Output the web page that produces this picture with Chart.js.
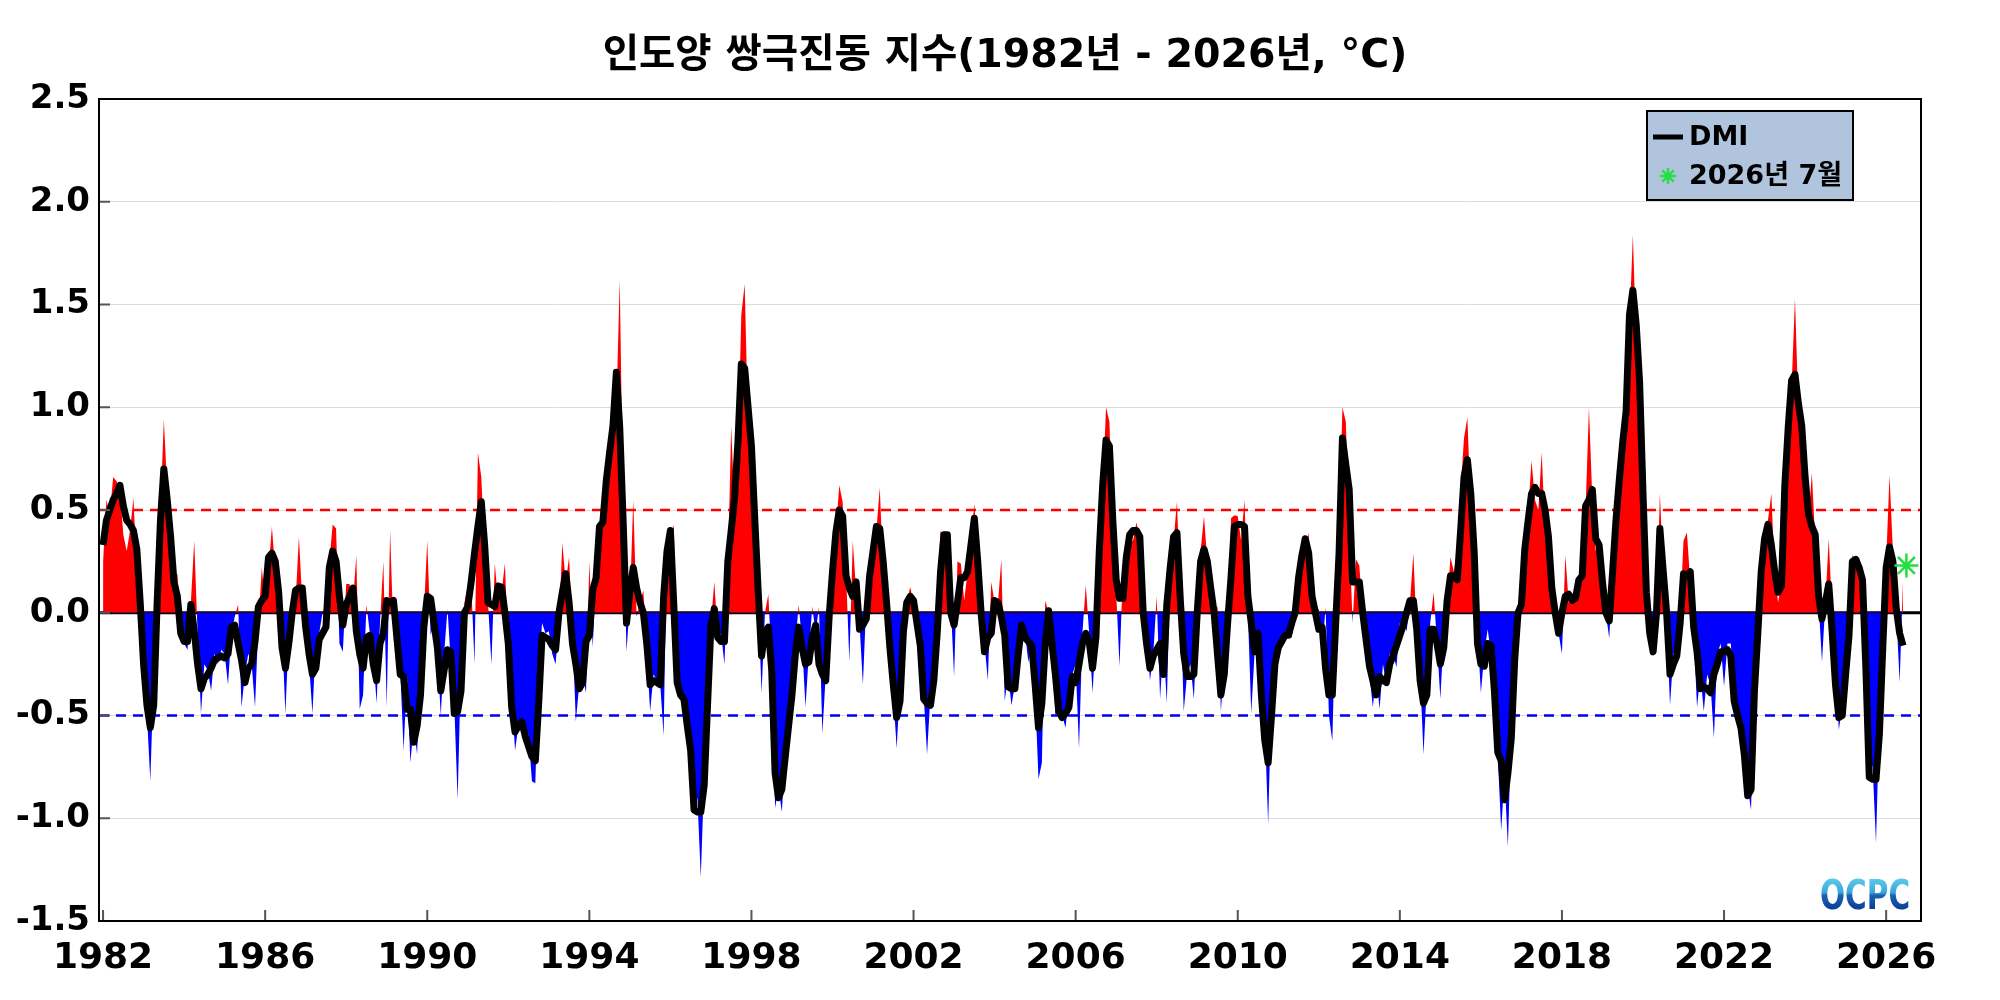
<!DOCTYPE html>
<html>
<head>
<meta charset="utf-8">
<title>DMI</title>
<script src="https://cdn.jsdelivr.net/npm/chart.js@4.4.1/dist/chart.umd.min.js"></script>
<style>
  html, body { margin: 0; padding: 0; background: #fff; }
  #wrap { width: 2000px; height: 1000px; }
</style>
</head>
<body>
<div id="wrap"><canvas id="dmiChart" width="2000" height="1000"></canvas></div>
<script>
var startYear = 1982;
var titleText = '인도양 쌍극진동 지수(1982년 - 2026년, °C)';
var xTickYears = [1982, 1986, 1990, 1994, 1998, 2002, 2006, 2010, 2014, 2018, 2022, 2026];
var yTicks = [-1.5, -1.0, -0.5, 0.0, 0.5, 1.0, 1.5, 2.0, 2.5];
var legendLabels = ['DMI', '2026년 7월'];
var forecastYear = 2026, forecastMonth = 7, forecastValue = 0.23;
var thresholds = [0.5, -0.5];

// monthly DMI, one row per year (Jan..Dec)
var dmiMonthly = [
  0.25, 0.55, 0.48, 0.66, 0.64, 0.60, 0.38, 0.30, 0.40, 0.56, 0.20, -0.10,
  -0.30, -0.50, -0.82, -0.30, 0.10, 0.50, 0.94, 0.60, 0.25, 0.15, 0.19, -0.05,
  -0.15, -0.18, 0.05, 0.35, -0.10, -0.49, -0.25, -0.28, -0.38, -0.20, -0.25, -0.18,
  -0.20, -0.35, -0.10, -0.02, 0.04, -0.46, -0.30, -0.20, -0.25, -0.46, -0.05, 0.22,
  0.05, 0.20, 0.42, 0.20, 0.05, -0.10, -0.49, -0.10, 0.05, 0.05, 0.37, 0.05,
  -0.05, -0.25, -0.49, -0.15, -0.10, 0.00, 0.04, 0.25, 0.43, 0.41, -0.15, -0.19,
  0.14, 0.14, 0.05, 0.28, -0.47, -0.40, 0.04, -0.10, -0.20, -0.44, -0.05, 0.25,
  -0.46, 0.40, -0.11, -0.10, -0.28, -0.67, -0.30, -0.73, -0.55, -0.69, -0.20, 0.00,
  0.35, -0.11, -0.05, -0.20, -0.50, -0.20, 0.02, -0.25, -0.45, -0.91, -0.25, 0.05,
  0.12, 0.15, -0.25, 0.78, 0.66, 0.30, 0.05, -0.25, 0.24, 0.05, 0.10, 0.24,
  -0.20, -0.40, -0.67, -0.55, -0.53, -0.55, -0.60, -0.82, -0.83, -0.30, -0.05, -0.10,
  -0.09, -0.20, -0.25, -0.05, 0.34, 0.15, 0.27, -0.10, -0.53, -0.35, -0.30, -0.39,
  0.25, -0.17, 0.20, 0.40, 0.56, 0.50, 0.75, 0.95, 1.00, 1.62, 0.50, -0.19,
  0.05, 0.55, -0.02, 0.05, 0.11, -0.20, -0.48, -0.30, -0.33, -0.35, -0.60, 0.41,
  0.35, 0.43, -0.30, -0.42, -0.45, -0.50, -0.70, -0.98, -0.90, -1.29, -0.80, -0.40,
  -0.05, 0.15, -0.10, -0.10, -0.25, 0.20, 0.91, 0.50, 0.80, 1.45, 1.60, 0.90,
  0.70, 0.40, 0.05, -0.39, 0.00, 0.09, -0.25, -0.95, -0.85, -0.97, -0.70, -0.50,
  -0.35, -0.15, 0.04, -0.15, -0.46, -0.20, 0.03, -0.10, 0.03, -0.59, -0.30, -0.05,
  0.20, 0.40, 0.62, 0.54, 0.20, -0.24, 0.35, 0.10, -0.05, -0.35, 0.05, 0.15,
  0.30, 0.40, 0.61, 0.20, 0.00, -0.20, -0.40, -0.66, -0.35, -0.10, 0.05, 0.125,
  0.05, -0.05, -0.20, -0.40, -0.69, -0.40, -0.30, -0.05, 0.40, 0.35, 0.38, 0.05,
  -0.31, 0.25, 0.24, 0.06, 0.20, 0.35, 0.53, 0.30, -0.05, -0.15, -0.33, 0.15,
  0.05, 0.05, 0.26, -0.43, -0.30, -0.45, -0.35, -0.15, -0.05, -0.10, -0.24, -0.15,
  -0.40, -0.81, -0.73, 0.06, 0.00, -0.10, -0.50, -0.45, -0.50, -0.56, -0.40, -0.30,
  -0.25, -0.66, -0.10, 0.135, -0.10, -0.39, -0.10, 0.40, 0.60, 1.00, 0.93, 0.40,
  0.10, -0.26, 0.21, 0.30, 0.35, 0.35, 0.44, 0.35, 0.00, -0.10, -0.33, -0.20,
  0.08, -0.42, -0.15, -0.44, 0.20, 0.35, 0.54, 0.10, -0.48, -0.30, -0.25, -0.42,
  -0.05, 0.30, 0.47, 0.25, 0.10, 0.00, 0.03, -0.48, -0.25, -0.30, 0.46, 0.475,
  0.47, 0.35, 0.55, 0.00, -0.49, -0.19, -0.10, -0.45, -0.55, -1.03, -0.40, -0.20,
  -0.15, -0.15, -0.10, -0.12, -0.12, 0.00, 0.15, 0.37, 0.30, 0.39, 0.05, 0.00,
  0.02, -0.20, 0.03, -0.50, -0.625, 0.00, 0.40, 1.00, 0.93, 0.40, -0.05, 0.26,
  0.23, 0.00, -0.15, -0.30, -0.46, -0.30, -0.47, -0.25, -0.35, -0.20, -0.20, -0.265,
  -0.05, -0.05, -0.09, 0.05, 0.29, -0.10, -0.30, -0.69, -0.35, -0.05, 0.10, -0.15,
  -0.42, -0.10, 0.05, 0.27, 0.20, 0.30, 0.60, 0.85, 0.95, 0.50, 0.10, -0.10,
  -0.39, -0.20, -0.08, -0.20, -0.40, -0.70, -1.06, -0.80, -1.14, -0.55, -0.20, -0.05,
  0.05, 0.30, 0.50, 0.74, 0.55, 0.50, 0.78, 0.40, 0.30, 0.10, -0.05, -0.10,
  -0.20, 0.28, 0.05, 0.05, 0.14, 0.15, 0.20, 0.50, 1.00, 0.55, 0.30, 0.35,
  0.10, 0.00, -0.125, 0.20, 0.50, 0.65, 0.85, 1.00, 1.40, 1.84, 1.30, 0.90,
  0.40, 0.05, -0.15, -0.21, 0.00, 0.58, 0.20, -0.05, -0.45, -0.20, -0.15, 0.00,
  0.35, 0.39, 0.15, -0.10, -0.46, -0.30, -0.48, -0.30, -0.35, -0.61, -0.20, -0.15,
  -0.36, -0.15, -0.15, -0.40, -0.50, -0.55, -0.70, -0.85, -0.96, -0.30, 0.00, 0.30,
  0.40, 0.45, 0.58, 0.20, 0.05, 0.15, 0.60, 0.95, 1.10, 1.53, 1.00, 0.85,
  0.60, 0.45, 0.68, 0.35, 0.05, -0.24, 0.05, 0.36, 0.00, -0.30, -0.57, -0.45,
  -0.25, -0.05, 0.28, 0.25, 0.27, 0.10, 0.02, -0.70, -0.75, -1.12, -0.50, -0.10,
  0.25, 0.67, 0.30, 0.00, -0.34, 0.16
];

// running mean (black line), same months
var dmiRunning = [
  0.33, 0.45, 0.50, 0.55, 0.58, 0.62, 0.52, 0.45, 0.43, 0.40, 0.31, 0.05,
  -0.25, -0.45, -0.56, -0.45, 0.04, 0.45, 0.70, 0.55, 0.37, 0.15, 0.08, -0.10,
  -0.14, -0.14, 0.04, -0.09, -0.25, -0.37, -0.32, -0.30, -0.27, -0.23, -0.22, -0.21,
  -0.22, -0.20, -0.07, -0.06, -0.15, -0.23, -0.34, -0.27, -0.25, -0.14, 0.03, 0.06,
  0.08, 0.27, 0.29, 0.25, 0.10, -0.17, -0.27, -0.15, 0.00, 0.11, 0.12, 0.12,
  -0.07, -0.20, -0.30, -0.27, -0.13, -0.10, -0.07, 0.22, 0.30, 0.25, 0.08, -0.06,
  0.04, 0.08, 0.12, -0.09, -0.20, -0.27, -0.12, -0.11, -0.25, -0.33, -0.15, -0.10,
  0.06, 0.05, 0.06, -0.12, -0.30, -0.31, -0.47, -0.47, -0.63, -0.55, -0.40, -0.07,
  0.08, 0.07, -0.05, -0.17, -0.38, -0.28, -0.18, -0.19, -0.49, -0.48, -0.38, 0.00,
  0.03, 0.15, 0.29, 0.42, 0.54, 0.33, 0.05, 0.04, 0.03, 0.13, 0.125, 0.00,
  -0.15, -0.46, -0.58, -0.55, -0.53, -0.60, -0.65, -0.70, -0.72, -0.44, -0.11, -0.12,
  -0.13, -0.16, -0.18, 0.00, 0.10, 0.19, 0.05, -0.15, -0.25, -0.37, -0.34, -0.14,
  -0.11, 0.11, 0.17, 0.42, 0.44, 0.64, 0.78, 0.91, 1.17, 0.90, 0.45, -0.05,
  0.10, 0.22, 0.12, 0.05, 0.00, -0.15, -0.35, -0.33, -0.34, -0.35, 0.08, 0.30,
  0.40, 0.04, -0.34, -0.40, -0.42, -0.55, -0.67, -0.96, -0.97, -0.97, -0.84, -0.45,
  -0.06, 0.02, -0.12, -0.14, -0.14, 0.25, 0.40, 0.56, 0.83, 1.21, 1.19, 1.00,
  0.81, 0.45, 0.10, -0.21, -0.09, -0.07, -0.28, -0.78, -0.90, -0.86, -0.70, -0.55,
  -0.40, -0.20, -0.07, -0.17, -0.25, -0.24, -0.12, -0.06, -0.25, -0.30, -0.33, -0.02,
  0.20, 0.39, 0.50, 0.47, 0.18, 0.12, 0.08, 0.15, -0.08, -0.06, -0.03, 0.18,
  0.30, 0.42, 0.41, 0.25, 0.05, -0.17, -0.35, -0.51, -0.43, -0.09, 0.05, 0.08,
  0.06, -0.05, -0.16, -0.42, -0.44, -0.45, -0.33, -0.10, 0.20, 0.38, 0.38, 0.00,
  -0.06, 0.05, 0.17, 0.17, 0.20, 0.33, 0.46, 0.25, 0.00, -0.19, -0.12, -0.10,
  0.06, 0.05, -0.02, -0.11, -0.36, -0.37, -0.37, -0.20, -0.06, -0.12, -0.14, -0.16,
  -0.35, -0.56, -0.44, -0.15, 0.01, -0.15, -0.30, -0.48, -0.51, -0.49, -0.46, -0.31,
  -0.34, -0.25, -0.15, -0.10, -0.14, -0.27, -0.12, 0.30, 0.62, 0.84, 0.81, 0.45,
  0.16, 0.07, 0.07, 0.27, 0.38, 0.40, 0.40, 0.37, 0.00, -0.15, -0.27, -0.21,
  -0.18, -0.15, -0.30, 0.04, 0.22, 0.37, 0.39, 0.06, -0.20, -0.31, -0.31, -0.30,
  0.00, 0.25, 0.31, 0.25, 0.12, 0.00, -0.20, -0.40, -0.30, -0.05, 0.17, 0.42,
  0.43, 0.43, 0.42, 0.08, -0.05, -0.19, -0.10, -0.40, -0.62, -0.73, -0.50, -0.25,
  -0.17, -0.14, -0.11, -0.11, -0.05, 0.00, 0.17, 0.28, 0.36, 0.29, 0.08, 0.00,
  -0.08, -0.07, -0.27, -0.40, -0.40, -0.05, 0.29, 0.85, 0.72, 0.60, 0.15, 0.15,
  0.15, 0.00, -0.13, -0.26, -0.33, -0.40, -0.31, -0.33, -0.34, -0.25, -0.21, -0.16,
  -0.11, -0.06, 0.00, 0.06, 0.06, -0.08, -0.33, -0.44, -0.40, -0.08, -0.08, -0.15,
  -0.25, -0.17, 0.06, 0.18, 0.18, 0.16, 0.40, 0.66, 0.745, 0.58, 0.30, -0.15,
  -0.25, -0.26, -0.15, -0.16, -0.38, -0.68, -0.72, -0.91, -0.78, -0.61, -0.23, 0.00,
  0.04, 0.31, 0.45, 0.58, 0.61, 0.58, 0.58, 0.50, 0.37, 0.12, 0.00, -0.10,
  0.00, 0.08, 0.09, 0.06, 0.07, 0.16, 0.18, 0.52, 0.55, 0.60, 0.36, 0.33,
  0.15, 0.00, -0.04, 0.20, 0.45, 0.65, 0.83, 0.98, 1.45, 1.57, 1.40, 1.12,
  0.58, 0.10, -0.10, -0.19, 0.00, 0.41, 0.20, 0.00, -0.30, -0.25, -0.21, -0.05,
  0.19, 0.18, 0.20, -0.07, -0.19, -0.37, -0.36, -0.37, -0.39, -0.30, -0.25, -0.19,
  -0.19, -0.18, -0.21, -0.43, -0.50, -0.56, -0.69, -0.89, -0.86, -0.38, -0.10, 0.20,
  0.36, 0.43, 0.33, 0.20, 0.10, 0.13, 0.62, 0.90, 1.13, 1.16, 1.02, 0.91,
  0.66, 0.48, 0.42, 0.38, 0.08, -0.03, 0.05, 0.14, -0.09, -0.35, -0.51, -0.50,
  -0.30, -0.11, 0.25, 0.26, 0.22, 0.16, -0.27, -0.80, -0.81, -0.81, -0.59, -0.17,
  0.22, 0.32, 0.25, 0.02, -0.10, -0.16
];

var FONT = "'DejaVu Sans', 'Noto Sans CJK KR', sans-serif";
var STAR_GREEN = '#22e040';

function toPoints(values) {
  var pts = [];
  for (var i = 0; i < values.length; i++) {
    pts.push({ x: startYear + i / 12, y: values[i] });
  }
  return pts;
}

function drawAsterisk(ctx, cx, cy, r, color, lw) {
  ctx.save();
  ctx.strokeStyle = color;
  ctx.lineWidth = lw;
  ctx.beginPath();
  for (var k = 0; k < 4; k++) {
    var a = k * Math.PI / 4;
    ctx.moveTo(cx - r * Math.cos(a), cy - r * Math.sin(a));
    ctx.lineTo(cx + r * Math.cos(a), cy + r * Math.sin(a));
  }
  ctx.stroke();
  ctx.restore();
}

// zero line and +/-0.5 dashed lines, under the data
var refLines = {
  id: 'refLines',
  beforeDatasetsDraw: function (chart) {
    var ctx = chart.ctx, a = chart.chartArea, y = chart.scales.y;
    ctx.save();
    ctx.setLineDash([10, 7]);
    ctx.lineWidth = 2.5;
    for (var i = 0; i < thresholds.length; i++) {
      var py = y.getPixelForValue(thresholds[i]);
      ctx.strokeStyle = thresholds[i] > 0 ? '#ff0000' : '#0000ee';
      ctx.beginPath();
      ctx.moveTo(a.left, py);
      ctx.lineTo(a.right, py);
      ctx.stroke();
    }
    ctx.setLineDash([]);
    var y0 = y.getPixelForValue(0);
    ctx.strokeStyle = '#000';
    ctx.lineWidth = 3;
    ctx.beginPath();
    ctx.moveTo(a.left, y0);
    ctx.lineTo(a.right, y0);
    ctx.stroke();
    ctx.restore();
  }
};

// title, frame, inward ticks, legend box, logo
var decorations = {
  id: 'decorations',
  afterDraw: function (chart) {
    var ctx = chart.ctx, a = chart.chartArea;
    var xs = chart.scales.x, ys = chart.scales.y;
    ctx.save();

    // title
    ctx.fillStyle = '#000';
    ctx.font = 'bold 39.5px ' + FONT;
    ctx.textAlign = 'center';
    ctx.textBaseline = 'middle';
    ctx.fillText(titleText, 1005, 57);

    // inward tick marks
    ctx.strokeStyle = '#555';
    ctx.lineWidth = 2;
    ctx.beginPath();
    for (var i = 0; i < xTickYears.length; i++) {
      var px = xs.getPixelForValue(xTickYears[i]);
      ctx.moveTo(px, a.bottom);
      ctx.lineTo(px, a.bottom - 11);
    }
    for (var j = 0; j < yTicks.length; j++) {
      var py = ys.getPixelForValue(yTicks[j]);
      ctx.moveTo(a.left, py);
      ctx.lineTo(a.left + 11, py);
    }
    ctx.stroke();

    // frame
    ctx.strokeStyle = '#000';
    ctx.lineWidth = 2;
    ctx.strokeRect(a.left, a.top, a.right - a.left, a.bottom - a.top);

    // legend
    var lx = 1647, ly = 111, lw = 206, lh = 89;
    ctx.fillStyle = '#b0c4de';
    ctx.fillRect(lx, ly, lw, lh);
    ctx.strokeStyle = '#000';
    ctx.lineWidth = 2;
    ctx.strokeRect(lx, ly, lw, lh);

    ctx.lineWidth = 5;
    ctx.beginPath();
    ctx.moveTo(lx + 6, ly + 26);
    ctx.lineTo(lx + 36, ly + 26);
    ctx.stroke();
    drawAsterisk(ctx, lx + 21, ly + 65, 8, STAR_GREEN, 2.5);

    ctx.fillStyle = '#000';
    ctx.font = 'bold 27px ' + FONT;
    ctx.textAlign = 'left';
    ctx.textBaseline = 'middle';
    ctx.fillText(legendLabels[0], lx + 42, ly + 27);
    ctx.fillText(legendLabels[1], lx + 42, ly + 66);

    // OCPC mark
    ctx.save();
    ctx.translate(a.right - 101, a.bottom - 12);
    ctx.scale(0.72, 1);
    var g = ctx.createLinearGradient(0, -30, 0, 0);
    g.addColorStop(0, '#5cc8ec');
    g.addColorStop(0.45, '#3aa6dc');
    g.addColorStop(0.55, '#1b62b4');
    g.addColorStop(1, '#0a3f94');
    ctx.fillStyle = g;
    ctx.font = 'bold 41px ' + FONT;
    ctx.textBaseline = 'alphabetic';
    ctx.fillText('OCPC', 0, 0);
    ctx.restore();

    ctx.restore();
  }
};

var ctx = document.getElementById('dmiChart');
window.dmiChart = new Chart(ctx, {
  type: 'line',
  data: {
    datasets: [
      {
        label: 'forecast',
        type: 'scatter',
        data: [{ x: forecastYear + (forecastMonth - 1) / 12, y: forecastValue }],
        pointStyle: 'star',
        pointRadius: 12,
        borderColor: STAR_GREEN,
        backgroundColor: STAR_GREEN,
        pointBorderWidth: 2.5,
        order: 0
      },
      {
        label: 'DMI',
        data: toPoints(dmiRunning),
        borderColor: '#000',
        borderWidth: 7,
        borderJoinStyle: 'round',
        pointRadius: 0,
        fill: false,
        tension: 0,
        order: 1
      },
      {
        label: 'monthly',
        data: toPoints(dmiMonthly),
        borderWidth: 0,
        borderColor: 'rgba(0,0,0,0)',
        pointRadius: 0,
        tension: 0,
        fill: { target: 'origin', above: '#ff0000', below: '#0000ff' },
        order: 2
      }
    ]
  },
  options: {
    responsive: false,
    animation: false,
    devicePixelRatio: 1,
    layout: { padding: { left: 0, right: 79, top: 99, bottom: 0 } },
    plugins: {
      legend: { display: false },
      tooltip: { enabled: false },
      title: { display: false }
    },
    scales: {
      x: {
        type: 'linear',
        min: 1981.9,
        max: 2026.86,
        grid: { display: false },
        border: { display: false },
        afterBuildTicks: function (scale) {
          scale.ticks = xTickYears.map(function (v) { return { value: v }; });
        },
        afterFit: function (scale) { scale.height = 79; },
        ticks: {
          autoSkip: false,
          maxRotation: 0,
          padding: 8,
          color: '#000',
          font: { family: FONT, size: 36, weight: 'bold' },
          callback: function (v) { return String(v); }
        }
      },
      y: {
        min: -1.5,
        max: 2.5,
        grid: { color: '#dcdcdc', lineWidth: 1, drawTicks: false },
        border: { display: false },
        afterBuildTicks: function (scale) {
          scale.ticks = yTicks.map(function (v) { return { value: v }; });
        },
        afterFit: function (scale) { scale.width = 99; },
        ticks: {
          padding: 9,
          color: '#000',
          font: { family: FONT, size: 34, weight: 'bold' },
          callback: function (v) { return Number(v).toFixed(1); }
        }
      }
    }
  },
  plugins: [refLines, decorations]
});
</script>
</body>
</html>
